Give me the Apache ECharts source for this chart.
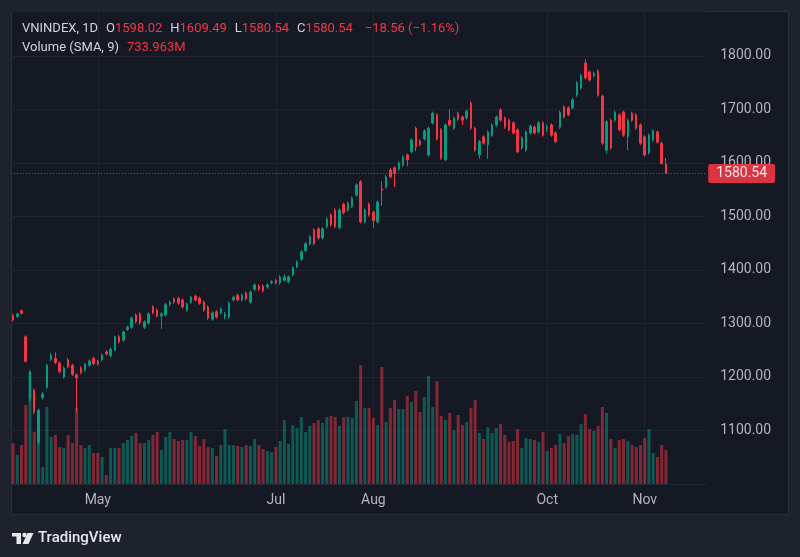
<!DOCTYPE html>
<html>
<head>
<meta charset="utf-8">
<script src="https://cdn.jsdelivr.net/npm/echarts@6/dist/echarts.min.js"></script>
<style>
  html, body { margin: 0; padding: 0; background: #1e222d; }
  #chart { width: 800px; height: 557px; }
</style>
</head>
<body>
<div id="chart"></div>
<script>
// VNINDEX daily, 2025-04-01 .. last bar
const open = [
  1315, 1313, 1324, 1275, 1160, 1175, 1078, 1162, 1181, 1233, 1235, 1226, 1200, 1232, 1222, 1204, 1217, 1213, 1222, 1235,
  1230, 1232, 1247, 1240, 1250, 1275, 1269, 1289, 1293, 1316, 1318, 1293, 1301, 1331, 1325, 1314, 1316, 1336, 1346, 1347,
  1344, 1325, 1340, 1351, 1347, 1340, 1331, 1308, 1322, 1320, 1314, 1312, 1344, 1353, 1344, 1357, 1340, 1364, 1370, 1370,
  1368, 1376, 1380, 1376, 1381, 1378, 1391, 1406, 1420, 1436, 1449, 1475, 1477, 1460, 1481, 1503, 1512, 1479, 1523, 1512,
  1519, 1540, 1565, 1490, 1523, 1508, 1490, 1552, 1555, 1587, 1591, 1589, 1596, 1615, 1621, 1665, 1641, 1645, 1615, 1675,
  1690, 1662, 1606, 1680, 1665, 1693, 1686, 1684, 1712, 1665, 1615, 1649, 1634, 1652, 1671, 1699, 1684, 1680, 1675, 1662,
  1628, 1624, 1656, 1667, 1658, 1675, 1664, 1671, 1656, 1667, 1705, 1703, 1703, 1727, 1740, 1787, 1770, 1763, 1772, 1725,
  1624, 1680, 1680, 1690, 1695, 1649, 1693, 1690, 1671, 1649, 1619, 1643, 1658, 1637, 1598.02
];
const close = [
  1307, 1318, 1319, 1229, 1210, 1134, 1138, 1168, 1222, 1240, 1227, 1210, 1217, 1219, 1205, 1198, 1208, 1224, 1230, 1225,
  1224, 1241, 1243, 1252, 1275, 1266, 1284, 1293, 1310, 1303, 1301, 1303, 1318, 1320, 1314, 1318, 1335, 1340, 1340, 1338,
  1331, 1336, 1349, 1344, 1338, 1325, 1310, 1320, 1312, 1327, 1317, 1338, 1349, 1344, 1353, 1346, 1359, 1372, 1364, 1361,
  1372, 1378, 1376, 1387, 1387, 1387, 1404, 1415, 1434, 1449, 1462, 1449, 1460, 1477, 1495, 1484, 1481, 1512, 1507, 1525,
  1534, 1559, 1490, 1512, 1503, 1492, 1527, 1549, 1574, 1574, 1581, 1600, 1611, 1606, 1643, 1630, 1634, 1660, 1665, 1693,
  1645, 1609, 1671, 1671, 1684, 1682, 1680, 1697, 1665, 1624, 1640, 1637, 1658, 1671, 1686, 1680, 1667, 1662, 1656, 1621,
  1647, 1658, 1669, 1656, 1675, 1652, 1667, 1652, 1640, 1695, 1686, 1690, 1718, 1750, 1764, 1759, 1755, 1768, 1727, 1637,
  1677, 1628, 1695, 1662, 1652, 1680, 1680, 1665, 1637, 1615, 1652, 1660, 1639, 1599.10, 1580.54
];
const high = [
  1318, 1320, 1326, 1278, 1213, 1178, 1141, 1172, 1225, 1245, 1246, 1229, 1220, 1236, 1225, 1207, 1220, 1226, 1233, 1238,
  1232, 1244, 1250, 1255, 1277, 1279, 1287, 1296, 1313, 1319, 1321, 1306, 1321, 1334, 1328, 1321, 1338, 1343, 1349, 1350,
  1347, 1339, 1352, 1354, 1350, 1343, 1334, 1323, 1325, 1330, 1322, 1341, 1352, 1356, 1356, 1360, 1362, 1375, 1373, 1373,
  1375, 1381, 1383, 1390, 1392, 1390, 1407, 1418, 1437, 1452, 1465, 1478, 1480, 1480, 1498, 1506, 1515, 1515, 1526, 1528,
  1537, 1562, 1568, 1515, 1526, 1511, 1530, 1566, 1577, 1590, 1594, 1603, 1614, 1618, 1646, 1668, 1644, 1663, 1668, 1696,
  1693, 1665, 1674, 1700, 1687, 1696, 1689, 1700, 1715, 1668, 1643, 1652, 1661, 1674, 1689, 1702, 1687, 1683, 1678, 1665,
  1650, 1661, 1672, 1670, 1678, 1678, 1672, 1674, 1659, 1698, 1708, 1706, 1721, 1753, 1767, 1794, 1773, 1771, 1775, 1728,
  1680, 1683, 1698, 1693, 1698, 1683, 1696, 1693, 1674, 1652, 1655, 1663, 1661, 1640, 1609.49
];
const low = [
  1304, 1310, 1317, 1227, 1155, 1130, 1073, 1158, 1178, 1230, 1224, 1207, 1197, 1216, 1202, 1135, 1205, 1210, 1219, 1222,
  1221, 1229, 1240, 1237, 1248, 1263, 1266, 1286, 1290, 1300, 1298, 1290, 1298, 1317, 1311, 1290, 1313, 1333, 1337, 1335,
  1328, 1322, 1337, 1341, 1335, 1322, 1307, 1305, 1309, 1317, 1308, 1309, 1341, 1341, 1341, 1343, 1337, 1361, 1361, 1358,
  1365, 1373, 1373, 1373, 1378, 1375, 1388, 1403, 1417, 1433, 1446, 1446, 1457, 1457, 1478, 1481, 1478, 1476, 1504, 1509,
  1516, 1537, 1487, 1487, 1500, 1479, 1487, 1520, 1552, 1571, 1555, 1586, 1593, 1594, 1618, 1622, 1631, 1642, 1612, 1672,
  1642, 1606, 1603, 1668, 1662, 1679, 1671, 1681, 1662, 1621, 1608, 1634, 1608, 1649, 1668, 1677, 1664, 1659, 1653, 1618,
  1625, 1621, 1653, 1653, 1655, 1649, 1658, 1649, 1637, 1664, 1683, 1687, 1700, 1724, 1737, 1756, 1752, 1760, 1724, 1634,
  1618, 1625, 1677, 1659, 1649, 1624, 1677, 1662, 1634, 1612, 1616, 1640, 1636, 1597, 1580.54
];
// volume, millions of shares
const volume = [
  879, 626, 842, 1706, 2419, 1123, 1598, 367, 1663, 1015, 1058, 799, 778, 1058, 886, 1642, 842, 778, 842, 670,
  670, 583, 194, 778, 778, 778, 886, 950, 1037, 1102, 886, 886, 950, 1058, 1123, 734, 1015, 1123, 972, 929,
  950, 950, 1123, 1037, 821, 972, 799, 778, 605, 842, 1188, 842, 842, 821, 799, 842, 821, 972, 842, 756,
  713, 691, 799, 929, 1382, 864, 1274, 1210, 1447, 1123, 1253, 1318, 1382, 1318, 1447, 1469, 1447, 1253, 1447, 1447,
  1426, 1793, 2570, 1642, 1642, 1426, 1274, 2527, 1339, 1642, 1814, 1620, 1620, 1901, 1771, 2009, 1555, 1879, 2333, 1663,
  2225, 1469, 1382, 1534, 1166, 1490, 1274, 1339, 1642, 1814, 1102, 972, 1231, 1102, 1210, 1296, 1058, 907, 929, 1188,
  778, 994, 972, 950, 907, 1123, 713, 778, 842, 1080, 886, 1037, 1080, 1058, 1296, 1512, 1188, 1145, 1253, 1663,
  1534, 972, 778, 950, 972, 929, 842, 799, 842, 994, 1188, 670, 583, 842, 733.963
];

const holidays = ['2025-04-07', '2025-04-30', '2025-05-01', '2025-09-01', '2025-09-02'];
const monthNames = ['Jan', 'Feb', 'Mar', 'Apr', 'May', 'Jun', 'Jul', 'Aug', 'Sep', 'Oct', 'Nov', 'Dec'];
const monthTicks = ['May', 'Jul', 'Aug', 'Oct', 'Nov'];
const priceTicks = [1100, 1200, 1300, 1400, 1500, 1600, 1700, 1800];

const UP = '#089981';
const DOWN = '#f23645';
const TEXT = '#d1d4dc';
const AXIS_TEXT = '#b2b5be';
const GRID = '#1f2430';
const FONT = 'Roboto, "Noto Sans", sans-serif';

// trading days, plus some empty slots on the right like TradingView's offset
function tradingDays(start, n) {
  const out = [];
  const d = new Date(start + 'T00:00:00Z');
  while (out.length < n) {
    const s = d.toISOString().slice(0, 10);
    const wd = d.getUTCDay();
    if (wd !== 0 && wd !== 6 && holidays.indexOf(s) < 0) out.push(s);
    d.setUTCDate(d.getUTCDate() + 1);
  }
  return out;
}
const dates = tradingDays('2025-04-01', 164);

function monthOf(s) { return monthNames[+s.slice(5, 7) - 1]; }
function isMonthTick(i) {
  if (i <= 0) return false;
  const m = monthOf(dates[i]);
  return m !== monthOf(dates[i - 1]) && monthTicks.indexOf(m) >= 0;
}

const ohlc = open.map((o, i) => [o, close[i], low[i], high[i]]);
const volData = volume.map((v, i) => ({
  value: v,
  itemStyle: { color: close[i] >= open[i] ? 'rgba(8,153,129,0.5)' : 'rgba(242,54,69,0.5)' }
}));

const n = close.length;
const lastClose = close[n - 1];
const chg = lastClose - close[n - 2];
const pct = chg / close[n - 2] * 100;
const signed = (v) => (v < 0 ? '\u2212' : '+') + Math.abs(v).toFixed(2);

const chart = echarts.init(document.getElementById('chart'), null, { renderer: 'canvas' });

chart.setOption({
  backgroundColor: '#1e222d',
  animation: false,
  textStyle: { fontFamily: FONT },
  title: {
    left: 22,
    top: 19,
    padding: 0,
    text:
      '{a|VNINDEX, 1D}{g|}{a|O}{r|' + open[n - 1].toFixed(2) + '}{g|}{a|H}{r|' + high[n - 1].toFixed(2) +
      '}{g|}{a|L}{r|' + low[n - 1].toFixed(2) + '}{g|}{a|C}{r|' + lastClose.toFixed(2) + '}{w|}{r|' +
      signed(chg) + ' (' + signed(pct) + '%)}\n{a|Volume (SMA, 9)}{g|}{r|' + volume[n - 1].toFixed(3) + 'M}',
    textStyle: {
      fontFamily: FONT,
      fontSize: 13,
      fontWeight: 'normal',
      lineHeight: 19,
      rich: {
        a: { color: TEXT, fontSize: 13, fontFamily: FONT, lineHeight: 19 },
        r: { color: DOWN, fontSize: 13, fontFamily: FONT, lineHeight: 19 },
        g: { width: 8, lineHeight: 19 },
        w: { width: 12, lineHeight: 19 }
      }
    }
  },
  graphic: [
    {
      type: 'rect', z: -100, silent: true,
      shape: { x: 11.5, y: 11.5, width: 777, height: 503 },
      style: { fill: '#151924', stroke: '#2a2e39', lineWidth: 1 }
    },
    {
      type: 'group', left: 12, top: 531,
      children: [
        { type: 'rect', shape: { x: 0, y: 0, width: 9, height: 3.5 }, style: { fill: '#e6e8ee' } },
        { type: 'rect', shape: { x: 4.5, y: 0, width: 4.5, height: 11 }, style: { fill: '#e6e8ee' } },
        { type: 'circle', shape: { cx: 12.5, cy: 2, r: 2.2 }, style: { fill: '#e6e8ee' } },
        { type: 'polygon', shape: { points: [[15.5, 0], [21.5, 0], [16.5, 11], [10.5, 11]] }, style: { fill: '#e6e8ee' } },
        {
          type: 'text', x: 26, y: 5.5,
          style: { text: 'TradingView', fill: '#e6e8ee', font: '500 15px ' + FONT, verticalAlign: 'middle' }
        }
      ]
    }
  ],
  grid: {
    left: 10.9,
    right: 93.8,
    top: 11,
    bottom: 73,
    containLabel: false,
    outerBoundsMode: 'none'
  },
  xAxis: {
    type: 'category',
    data: dates,
    boundaryGap: true,
    axisLine: { show: true, lineStyle: { color: '#232733' } },
    axisTick: { show: false },
    axisLabel: {
      interval: (i) => isMonthTick(i),
      formatter: (v) => monthOf(v),
      color: AXIS_TEXT,
      fontSize: 14,
      fontFamily: FONT,
      margin: 9
    },
    splitLine: {
      show: true,
      alignWithLabel: true,
      interval: (i) => isMonthTick(i),
      lineStyle: { color: GRID, width: 1 }
    }
  },
  yAxis: [
    {
      type: 'value',
      position: 'right',
      min: 1000,
      max: 1884.1,
      interval: 100,
      axisLine: { show: false },
      axisTick: { show: false },
      axisLabel: {
        showMaxLabel: false,
        showMinLabel: false,
        color: AXIS_TEXT,
        fontSize: 14,
        fontFamily: FONT,
        margin: 14,
        formatter: (v) => (priceTicks.indexOf(v) >= 0 ? v.toFixed(2) : '')
      },
      splitLine: { show: true, lineStyle: { color: GRID, width: 1 } }
    },
    {
      type: 'value',
      show: false,
      min: 0,
      max: 473 * 21.6,
      splitLine: { show: false }
    }
  ],
  series: [
    {
      name: 'Volume',
      type: 'bar',
      yAxisIndex: 1,
      data: volData,
      barWidth: 3,
      z: 1,
      markLine: {
        silent: true,
        symbol: 'none',
        lineStyle: { opacity: 0 },
        label: {
          show: true,
          position: 'end',
          distance: 2,
          formatter: () => volume[n - 1].toFixed(3) + 'M',
          color: '#ffffff',
          backgroundColor: '#f0515e',
          padding: [3, 6, 2, 6],
          borderRadius: 2,
          fontSize: 14,
          fontFamily: FONT
        },
        data: [{ yAxis: volume[n - 1] }]
      }
    },
    {
      name: 'VNINDEX',
      type: 'candlestick',
      data: ohlc,
      barWidth: 2,
      z: 3,
      itemStyle: {
        color: UP,
        color0: DOWN,
        borderColor: UP,
        borderColor0: DOWN,
        borderWidth: 1
      },
      markLine: {
        silent: true,
        symbol: 'none',
        lineStyle: { color: DOWN, type: [1, 2], width: 1, opacity: 0.9 },
        label: {
          show: true,
          position: 'end',
          distance: 2,
          formatter: () => lastClose.toFixed(2),
          color: '#ffffff',
          backgroundColor: DOWN,
          padding: [3, 8, 2, 8],
          borderRadius: 2,
          fontSize: 14,
          fontFamily: FONT
        },
        data: [{ yAxis: lastClose }]
      }
    }
  ]
});
</script>
</body>
</html>
